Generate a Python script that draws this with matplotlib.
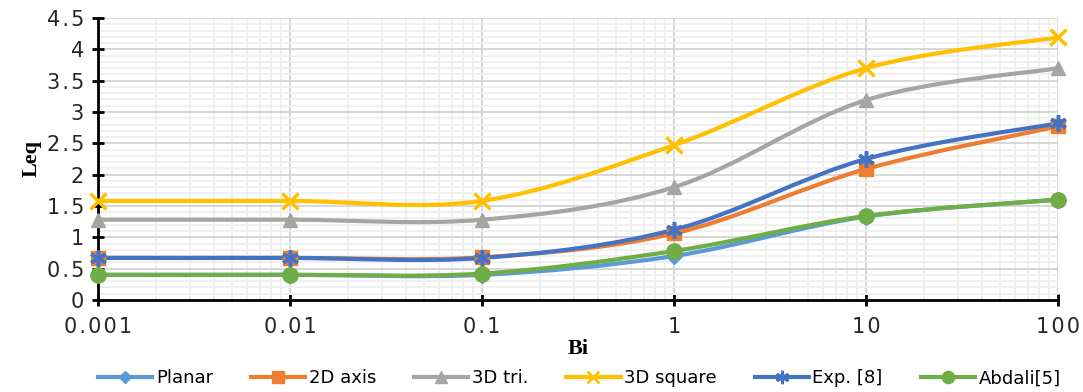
import numpy as np
import matplotlib
matplotlib.use('Agg')
import matplotlib.pyplot as plt
from matplotlib.path import Path
from matplotlib.patches import PathPatch
from matplotlib.lines import Line2D
from matplotlib.ticker import MultipleLocator, FixedLocator, FixedFormatter, LogLocator, NullFormatter

bi = [0.001, 0.01, 0.1, 1, 10, 100]
bi_labels = ['0.001', '0.01', '0.1', '1', '10', '100']
y_labels = ['0', '0.5', '1', '1.5', '2', '2.5', '3', '3.5', '4', '4.5']

planar = [0.40, 0.40, 0.40, 0.70, 1.33, 1.60]
axis_2d = [0.67, 0.67, 0.68, 1.06, 2.09, 2.77]
tri_3d = [1.28, 1.28, 1.28, 1.80, 3.19, 3.70]
square_3d = [1.58, 1.58, 1.58, 2.47, 3.70, 4.19]
exp8 = [0.67, 0.67, 0.67, 1.12, 2.25, 2.82]
abdali5 = [0.40, 0.40, 0.42, 0.78, 1.34, 1.60]

series = [
    ('Planar', planar, '#5B9BD5', 'D', 8),
    ('2D axis', axis_2d, '#ED7D31', 's', 10),
    ('3D tri.', tri_3d, '#A5A5A5', '^', 10),
    ('3D square', square_3d, '#FFC000', 'x', 11),
    ('Exp. [8]', exp8, '#4472C4', (6, 2, 0), 12),
    ('Abdali[5]', abdali5, '#70AD47', 'o', 11),
]


def spaced(s):
    # excel-like wide letter spacing
    return '\u200a'.join(s)


def smooth_path(x, y):
    # cubic bezier through points in log10(x) space, like excel smoothing
    lx = np.log10(x)
    y = np.asarray(y, float)
    n = len(lx)
    verts = [(lx[0], y[0])]
    codes = [Path.MOVETO]
    for i in range(n - 1):
        p0 = (lx[max(i - 1, 0)], y[max(i - 1, 0)])
        p1 = (lx[i], y[i])
        p2 = (lx[i + 1], y[i + 1])
        p3 = (lx[min(i + 2, n - 1)], y[min(i + 2, n - 1)])
        c1 = (p1[0] + (p2[0] - p0[0]) / 6, p1[1] + (p2[1] - p0[1]) / 6)
        c2 = (p2[0] - (p3[0] - p1[0]) / 6, p2[1] - (p3[1] - p1[1]) / 6)
        verts += [c1, c2, p2]
        codes += [Path.CURVE4] * 3
    verts = [(10 ** vx, vy) for vx, vy in verts]
    return Path(verts, codes)


fig = plt.figure(figsize=(10.83, 3.92), dpi=100)
ax = fig.add_axes([0.0905, 0.235, 0.8865, 0.719])

ax.set_xscale('log')
ax.set_xlim(0.001, 100)
ax.set_ylim(0, 4.5)

handles = []
for name, vals, col, mk, ms in series:
    patch = PathPatch(smooth_path(bi, vals), facecolor='none', edgecolor=col,
                      lw=3, zorder=3, capstyle='round', joinstyle='round')
    ax.add_patch(patch)
    ax.plot(bi, vals, linestyle='none', marker=mk, color=col, ms=ms,
            mew=2.5 if mk in ('x', (6, 2, 0)) else 1, zorder=4, clip_on=False)
    handles.append(Line2D([], [], color=col, lw=3, marker=mk, ms=ms * 0.8,
                          mew=2 if mk in ('x', (6, 2, 0)) else 1, label=name))

ax.xaxis.set_major_locator(FixedLocator(bi))
ax.xaxis.set_major_formatter(FixedFormatter([spaced(s) for s in bi_labels]))
ax.xaxis.set_minor_locator(LogLocator(base=10, subs=np.arange(2, 10)))
ax.xaxis.set_minor_formatter(NullFormatter())
ax.set_yticks(np.arange(0, 4.51, 0.5))
ax.set_yticklabels([spaced(s) for s in y_labels])
ax.yaxis.set_minor_locator(MultipleLocator(0.1))

ax.grid(which='major', color='#d4d4d4', lw=1.3, zorder=0)
ax.grid(which='minor', color='#efefef', lw=1.3, zorder=0)
ax.set_axisbelow(True)

for s in ['top', 'right']:
    ax.spines[s].set_visible(False)
for s in ['left', 'bottom']:
    ax.spines[s].set_linewidth(2)
    ax.spines[s].set_color('black')
ax.tick_params(which='major', length=8, width=2, direction='inout', labelsize=15,
               colors='black', pad=6)
ax.tick_params(axis='x', which='major', pad=8)
ax.tick_params(which='minor', length=0)
for lab in ax.get_xticklabels() + ax.get_yticklabels():
    lab.set_color('#262626')

ax.set_xlabel('Bi', fontsize=16, fontweight='bold', family='Liberation Serif', labelpad=2)
ax.set_ylabel('Leq', fontsize=16, fontweight='bold', family='Liberation Serif', labelpad=4)

fig.legend(handles=handles, loc='center', bbox_to_anchor=(0.535, 0.035), ncol=6,
           frameon=False, fontsize=13, handlelength=3, columnspacing=2.1,
           handletextpad=0.2)

fig.savefig('out.png', dpi=100)
